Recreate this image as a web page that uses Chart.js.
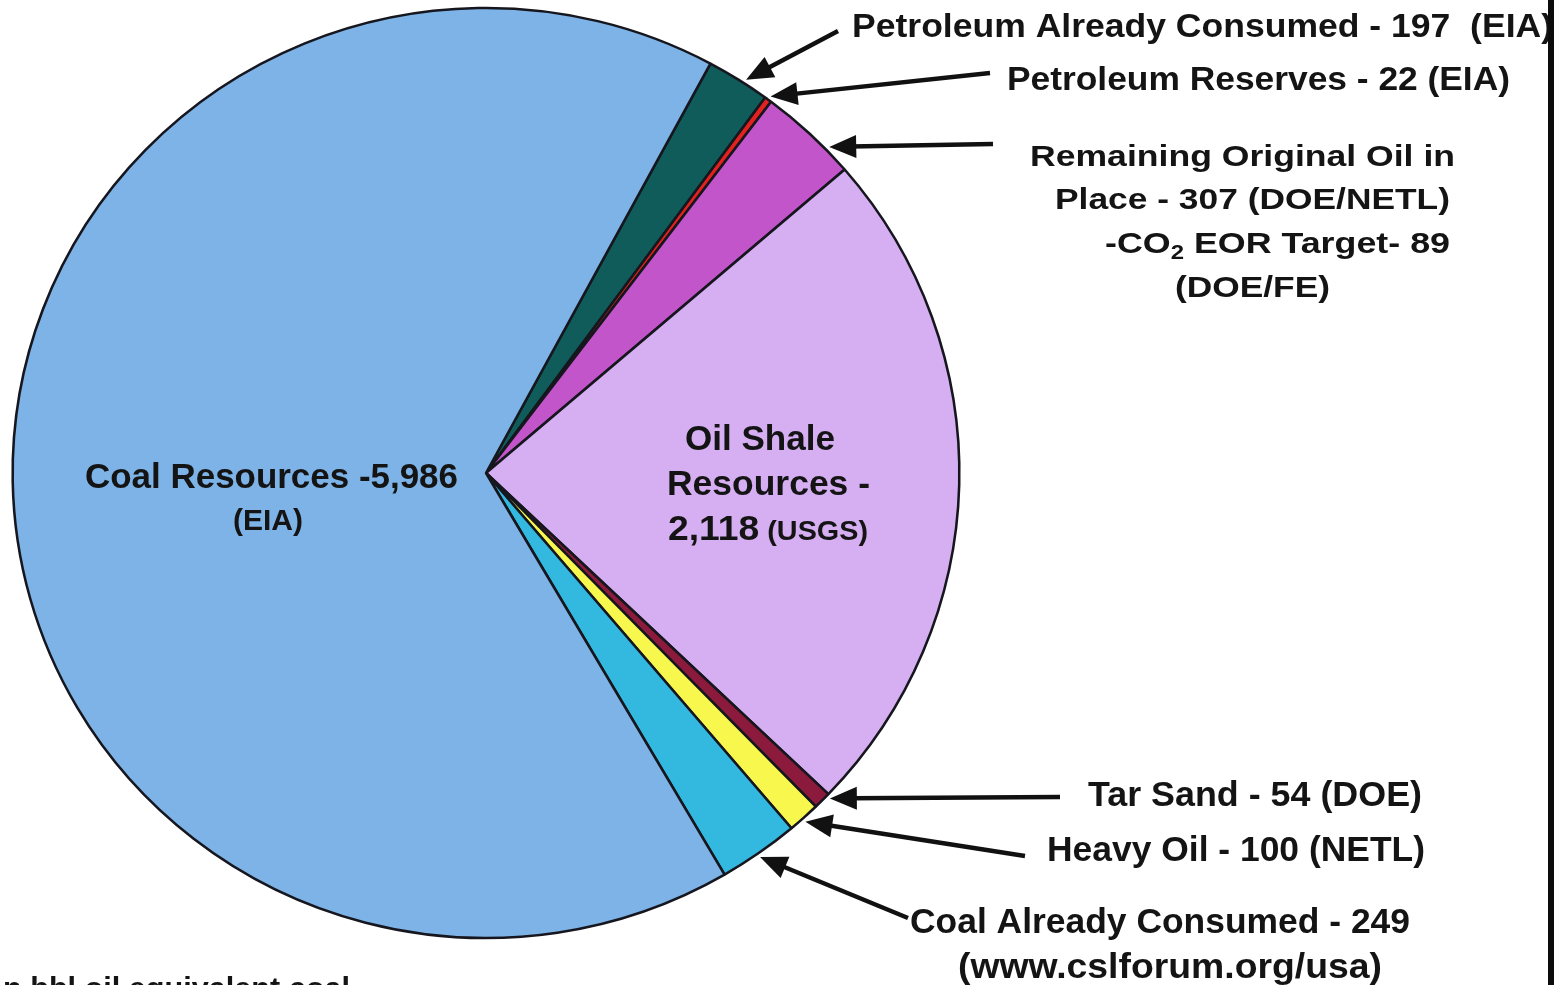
<!DOCTYPE html>
<html><head><meta charset="utf-8">
<script src="https://cdn.jsdelivr.net/npm/chart.js@4.4.0/dist/chart.umd.min.js"></script>
<style>html,body{margin:0;padding:0;background:#fff;overflow:hidden}canvas{display:block}</style>
</head><body>
<canvas id="c" width="1560" height="985"></canvas>
<script>
// ---- data ----
const categories = ['Petroleum Already Consumed','Petroleum Reserves','Remaining Original Oil in Place','Oil Shale Resources','Tar Sand','Heavy Oil','Coal Already Consumed','Coal Resources'];
const values = [197, 22, 307, 2118, 54, 100, 249, 5986];
const sliceColors = ['#0f5c5a','#e3211f','#c255c9','#d6aef2','#8c1a3c','#f7f74e','#33b9df','#7db3e7'];
const firstSliceAngle = 28.3; // degrees clockwise from 12 o'clock

// callout text lines (text only)
const calloutLines = [
  [{t:'Petroleum Already Consumed - 197  (EIA)'}],
  [{t:'Petroleum Reserves - 22 (EIA)'}],
  [{t:'Remaining Original Oil in'}],
  [{t:'Place - 307 (DOE/NETL)'}],
  [{t:'-CO'},{t:'2',sub:true},{t:' EOR Target- 89'}],
  [{t:'(DOE/FE)'}],
  [{t:'Tar Sand - 54 (DOE)'}],
  [{t:'Heavy Oil - 100 (NETL)'}],
  [{t:'Coal Already Consumed - 249'}],
  [{t:'(www.cslforum.org/usa)'}],
  [{t:'Coal Resources -5,986'}],
  [{t:'(EIA)'}],
  [{t:'Oil Shale'}],
  [{t:'Resources -'}],
  [{t:'2,118'},{t:' (USGS)',small:true}],
  [{t:'n bbl oil equivalent coal'}]
];
// layout for the lines above: [left x, right x, baseline y, font size]
const calloutLayout = [
  [852,1553,37,34],
  [1007,1510,90,34],
  [1030,1455,166,30],
  [1055,1450,209,30],
  [1105,1450,253,30],
  [1175,1330,297,30],
  [1088,1422,806,35],
  [1047,1425,861,35],
  [910,1410,933,35],
  [958,1382,978,35],
  [85,458,488,35],
  [233,303,530,30],
  [685,835,450,35],
  [667,870,495,35],
  [668,868,540,35],
  [3,350,998,30]
];
// arrows: slice index, position within slice (0..1) and tail point
const arrowSlices = [0,1,2,4,5,6];
const arrowFrac = [0.6,0.5,0.73,0.12,0.55,0.52];
const arrowTails = [[838,31],[990,73],[993,144],[1060,797],[1025,856],[908,918]];

const FONT = '"Liberation Sans", Arial, Helvetica, sans-serif';
const KX = 1.018; // slight horizontal stretch of the scanned pie

function drawLine(ctx, parts, left, right, base, size){
  let total = 0;
  const ws = parts.map(p=>{
    const s = p.small ? Math.round(size*0.76) : (p.sub ? Math.round(size*0.66) : size);
    ctx.font = `bold ${s}px ${FONT}`;
    const w = ctx.measureText(p.t).width; total += w; return [w,s];
  });
  const sx = (right-left)/total;
  ctx.save();
  ctx.translate(left, base);
  ctx.scale(sx,1);
  let x = 0;
  parts.forEach((p,i)=>{
    ctx.font = `bold ${ws[i][1]}px ${FONT}`;
    ctx.fillText(p.t, x, p.sub ? size*0.2 : 0);
    x += ws[i][0];
  });
  ctx.restore();
}

const stretch = {
  id:'stretch',
  beforeDatasetsDraw(chart){
    const m = chart.getDatasetMeta(0).data[0];
    const ctx = chart.ctx;
    ctx.save();
    ctx.translate(m.x, m.y); ctx.scale(KX,1); ctx.translate(-m.x,-m.y);
  },
  afterDatasetsDraw(chart){ chart.ctx.restore(); }
};

const overlay = {
  id:'overlay',
  afterDraw(chart){
    const ctx = chart.ctx;
    ctx.save();
    ctx.fillStyle = '#141414';
    ctx.textBaseline = 'alphabetic';
    calloutLines.forEach((parts,i)=>{
      const [l,r,b,s] = calloutLayout[i];
      drawLine(ctx, parts, l, r, b, s);
    });
    // arrows
    const meta = chart.getDatasetMeta(0);
    ctx.strokeStyle = '#111'; ctx.fillStyle = '#111';
    arrowSlices.forEach((si,k)=>{
      const arc = meta.data[si];
      const a = arc.startAngle + (arc.endAngle - arc.startAngle)*arrowFrac[k];
      const rr = arc.outerRadius + 4;
      const tx = arc.x + Math.cos(a)*rr*KX, ty = arc.y + Math.sin(a)*rr;
      const [sx,sy] = arrowTails[k];
      const dx = tx-sx, dy = ty-sy, len = Math.hypot(dx,dy);
      const ux = dx/len, uy = dy/len, nx = -uy, ny = ux;
      const L = 27, W = 11.5;
      ctx.lineWidth = 4.5;
      ctx.beginPath(); ctx.moveTo(sx,sy); ctx.lineTo(tx-ux*L*0.8, ty-uy*L*0.8); ctx.stroke();
      ctx.beginPath();
      ctx.moveTo(tx,ty);
      ctx.lineTo(tx-ux*L+nx*W, ty-uy*L+ny*W);
      ctx.lineTo(tx-ux*L-nx*W, ty-uy*L-ny*W);
      ctx.closePath(); ctx.fill();
    });
    // right frame line
    ctx.fillStyle = '#0c0c0c';
    ctx.fillRect(1548,0,6,985);
    ctx.restore();
  }
};

new Chart(document.getElementById('c'), {
  type:'pie',
  data:{ labels:categories, datasets:[{ data:values, backgroundColor:sliceColors, borderColor:'#16161e', borderWidth:2.5 }]},
  options:{
    responsive:false, animation:false, devicePixelRatio:1,
    rotation:firstSliceAngle, radius:465,
    layout:{ padding:{left:0, right:588, top:0, bottom:39} },
    plugins:{ legend:{display:false}, tooltip:{enabled:false}, title:{display:false} }
  },
  plugins:[stretch, overlay, {id:'bg', beforeDraw(c){const x=c.ctx; x.save(); x.fillStyle='#fff'; x.fillRect(0,0,c.width,c.height); x.restore();}}]
});
</script>
</body></html>
